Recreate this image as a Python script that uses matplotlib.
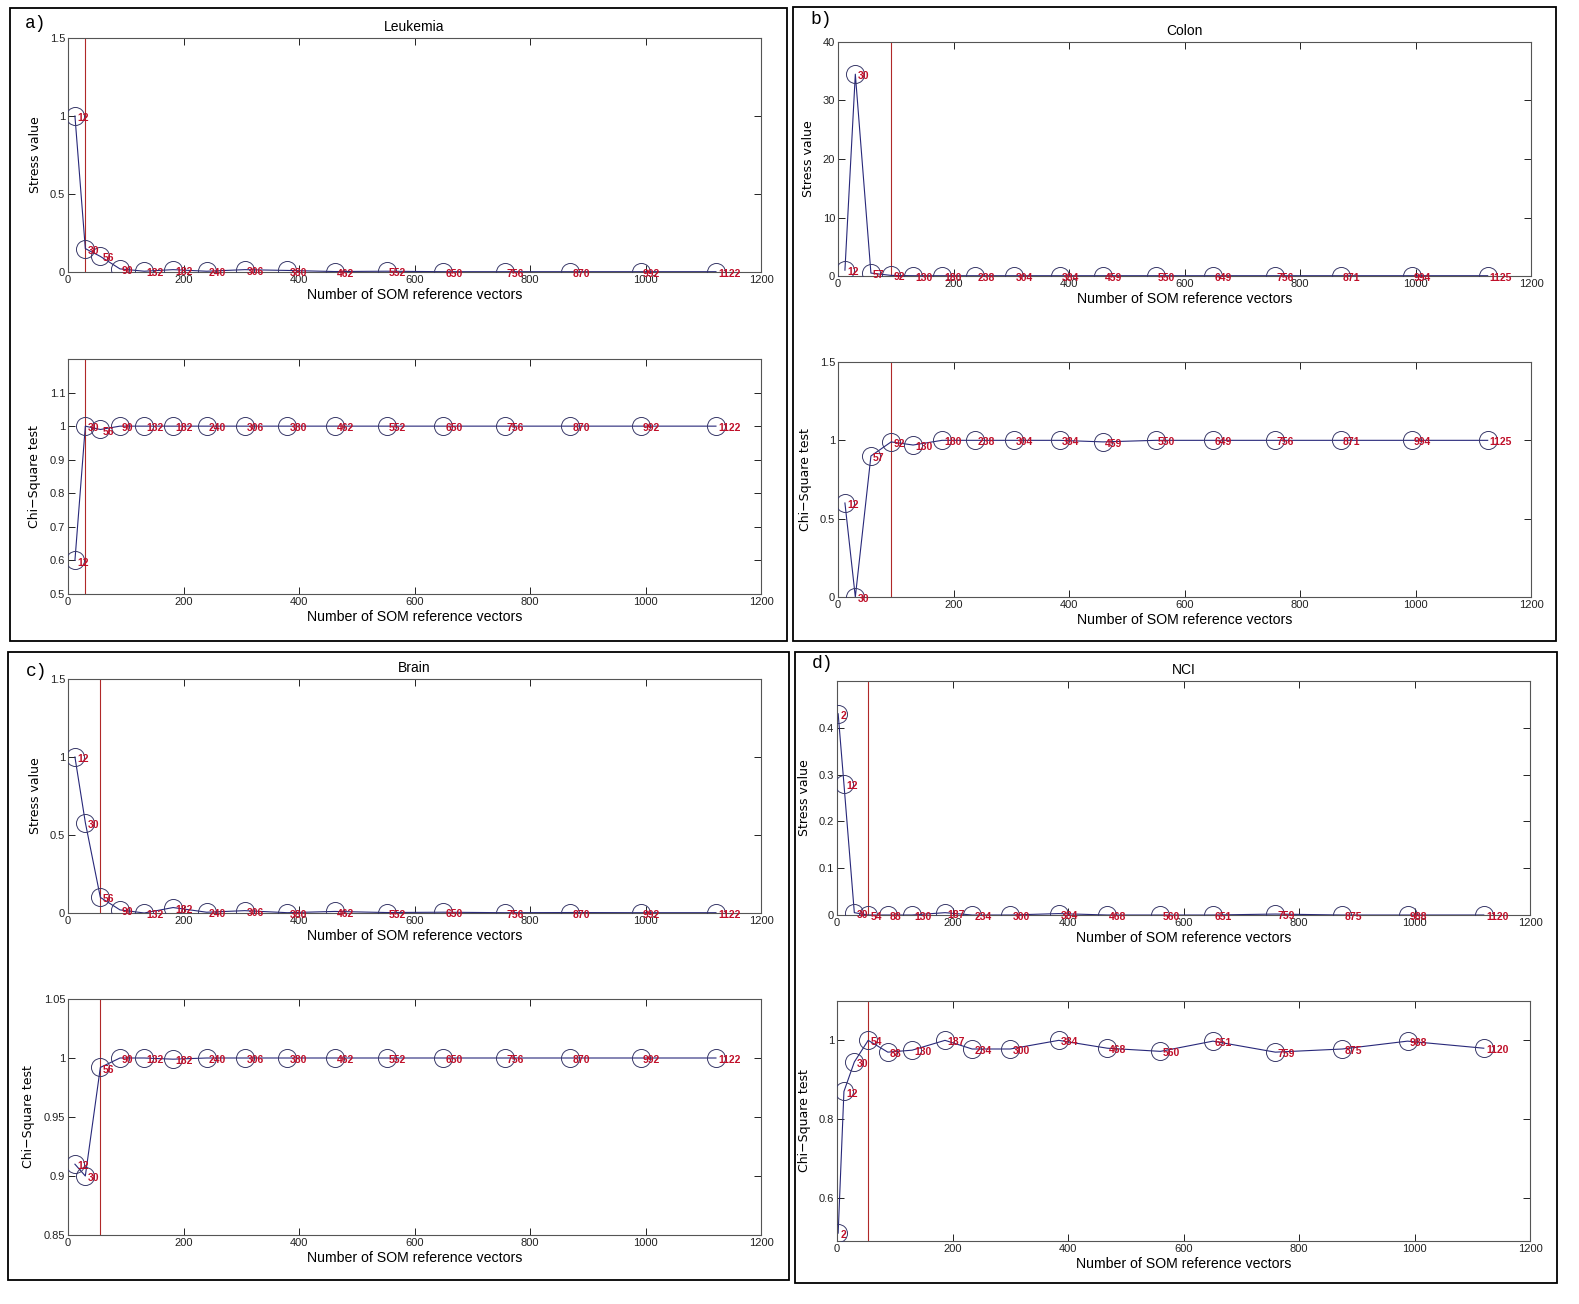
import matplotlib
matplotlib.use("Agg")
import matplotlib.pyplot as plt
from matplotlib.patches import Rectangle

W, H = 1579, 1304

#----------------------------------------------------------------------------------------#
# Data

leuk_x = [12, 30, 56, 90, 132, 182, 240, 306, 380, 462, 552, 650, 756, 870, 992, 1122]
leuk_stress = [1.0, 0.15, 0.1, 0.02, 0.005, 0.015, 0.005, 0.015, 0.01, 0.003, 0.005,
               0.002, 0.002, 0.002, 0.002, 0.002]
leuk_chi = [0.6, 1.0, 0.99, 1.0, 1.0, 1.0, 1.0, 1.0, 1.0, 1.0, 1.0, 1.0, 1.0, 1.0, 1.0, 1.0]
leuk_best = 30

colon_x = [12, 30, 57, 92, 130, 180, 238, 304, 384, 459, 550, 649, 756, 871, 994, 1125]
colon_stress = [1.0, 34.5, 0.5, 0.1, 0.05, 0.05, 0.05, 0.05, 0.05, 0.05, 0.05, 0.05,
                0.05, 0.05, 0.05, 0.05]
colon_chi = [0.6, 0.0, 0.9, 0.99, 0.97, 1.0, 1.0, 1.0, 1.0, 0.99, 1.0, 1.0, 1.0, 1.0, 1.0, 1.0]
colon_best = 92

brain_x = [12, 30, 56, 90, 132, 182, 240, 306, 380, 462, 552, 650, 756, 870, 992, 1122]
brain_stress = [1.0, 0.58, 0.1, 0.02, 0.0, 0.035, 0.005, 0.015, 0.002, 0.01, 0.003,
                0.005, 0.002, 0.003, 0.002, 0.002]
brain_chi = [0.91, 0.90, 0.992, 1.0, 1.0, 0.999, 1.0, 1.0, 1.0, 1.0, 1.0, 1.0, 1.0,
             1.0, 1.0, 1.0]
brain_best = 56

nci_x = [2, 12, 30, 54, 88, 130, 187, 234, 300, 384, 468, 560, 651, 759, 875, 988, 1120]
nci_stress = [0.43, 0.28, 0.005, 0.0, 0.0, 0.0, 0.005, 0.0, 0.0, 0.003, 0.0, 0.0, 0.0,
              0.002, 0.0, 0.0, 0.0]
nci_chi = [0.51, 0.87, 0.945, 1.0, 0.97, 0.975, 1.0, 0.978, 0.978, 1.0, 0.98, 0.972,
           0.998, 0.97, 0.978, 0.998, 0.98]
nci_best = 54

xticks = [0, 200, 400, 600, 800, 1000, 1200]

#----------------------------------------------------------------------------------------#
# Styles

NARROW = ['Liberation Sans', 'DejaVu Sans']
WIDE = ['DejaVu Sans']
LINE_C = '#28287a'
RED_LINE = '#b02828'
LABEL_C = '#c0102a'
FRAME_C = '#555555'

fig = plt.figure(figsize=(W / 100, H / 100), dpi=100)


def px_axes(l, t, r, b):
    return fig.add_axes([l / W, 1 - b / H, (r - l) / W, (b - t) / H])


def draw_panel(ax, xs, ys, best, ylim, yticks, ylab, title=None):
    ax.plot(xs, ys, '-', color=LINE_C, lw=0.8, zorder=2)
    ax.plot(xs, ys, 'o', mfc='none', mec='#3a3a6a', mew=0.7, ms=13, zorder=3)
    for x, y in zip(xs, ys):
        ax.annotate(str(x), (x, y), xytext=(1.5, -1.5), textcoords='offset points',
                    ha='left', va='center', color=LABEL_C, fontsize=7.5,
                    fontweight='bold', family=NARROW, zorder=4)
    ax.axvline(best, color=RED_LINE, lw=0.8, zorder=1)
    ax.set_xlim(0, 1200)
    ax.set_ylim(*ylim)
    ax.set_xticks(xticks)
    ax.set_yticks(yticks)
    ax.set_yticklabels([('%g' % v) for v in yticks])
    ax.tick_params(direction='in', length=5, width=0.7, colors='#222222',
                   top=True, right=True, labelsize=8, pad=2)
    for lab in ax.get_xticklabels() + ax.get_yticklabels():
        lab.set_family(NARROW)
    for sp in ax.spines.values():
        sp.set_color(FRAME_C)
        sp.set_linewidth(0.8)
    ax.set_xlabel('Number of SOM reference vectors', fontsize=10.2, family=NARROW,
                  labelpad=2)
    ax.set_ylabel(ylab, fontsize=9, family=WIDE, labelpad=6)
    if title:
        ax.set_title(title, fontsize=10, family=NARROW, pad=5)


# a) Leukemia
ax = px_axes(68, 38, 761, 272)
draw_panel(ax, leuk_x, leuk_stress, leuk_best, (0, 1.5), [0, 0.5, 1, 1.5],
           'Stress value', 'Leukemia')
ax = px_axes(68, 359, 761, 594)
draw_panel(ax, leuk_x, leuk_chi, leuk_best, (0.5, 1.2),
           [0.5, 0.6, 0.7, 0.8, 0.9, 1.0, 1.1], 'Chi\u2212Square test')

# b) Colon
ax = px_axes(838, 42, 1531, 276)
draw_panel(ax, colon_x, colon_stress, colon_best, (0, 40), [0, 10, 20, 30, 40],
           'Stress value', 'Colon')
ax = px_axes(838, 362, 1531, 597)
draw_panel(ax, colon_x, colon_chi, colon_best, (0, 1.5), [0, 0.5, 1, 1.5],
           'Chi\u2212Square test')

# c) Brain
ax = px_axes(68, 679, 761, 913)
draw_panel(ax, brain_x, brain_stress, brain_best, (0, 1.5), [0, 0.5, 1, 1.5],
           'Stress value', 'Brain')
ax = px_axes(68, 999, 761, 1235)
draw_panel(ax, brain_x, brain_chi, brain_best, (0.85, 1.05),
           [0.85, 0.9, 0.95, 1.0, 1.05], 'Chi\u2212Square test')

# d) NCI
ax = px_axes(837, 681, 1530, 915)
draw_panel(ax, nci_x, nci_stress, nci_best, (0, 0.5), [0, 0.1, 0.2, 0.3, 0.4],
           'Stress value', 'NCI')
ax = px_axes(837, 1001, 1530, 1241)
draw_panel(ax, nci_x, nci_chi, nci_best, (0.49, 1.1), [0.6, 0.8, 1.0],
           'Chi\u2212Square test')

#----------------------------------------------------------------------------------------#
# Panel frames and letters

boxes = [(10, 8, 787, 641), (793, 7, 1556, 641), (8, 652, 789, 1280), (795, 652, 1557, 1283)]
letters = ['a)', 'b)', 'c)', 'd)']
letter_pos = [(25, 24), (810, 20), (26, 672), (812, 664)]
for (l, t, r, b), let, (lx, ly) in zip(boxes, letters, letter_pos):
    fig.patches.append(Rectangle((l / W, 1 - b / H), (r - l) / W, (b - t) / H,
                                 transform=fig.transFigure, fill=False,
                                 ec='black', lw=1.3))
    fig.text(lx / W, 1 - ly / H, let, fontsize=13, family=['Liberation Mono', 'DejaVu Sans Mono'],
             ha='left', va='center')

fig.savefig('out.png', dpi=100)
